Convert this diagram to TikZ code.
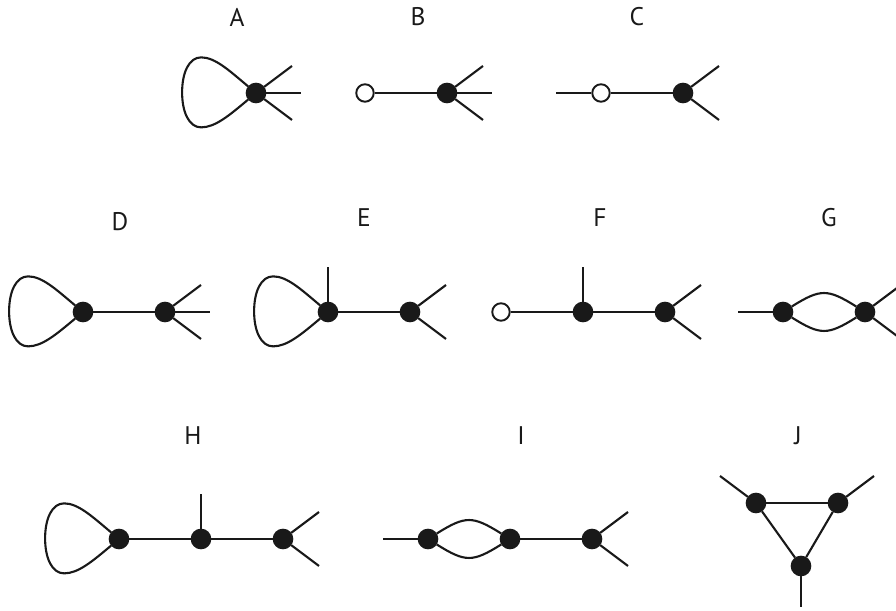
\documentclass[tikz,border=0pt]{standalone}
\usepackage{fontspec}
\setmainfont{PT Sans}
\tikzset{
	vertex/.style={circle,fill=black!90,draw=black!90,inner sep=0pt,minimum size=0.37cm},
	openvertex/.style={circle,fill=white,draw=black!90,line width=1.1pt,inner sep=0pt,minimum size=0.35cm},
	title/.style={font=\fontsize{14.5}{17}\selectfont,text=black!90,inner sep=0pt},
	bubbletop/.style={out=32,in=148,distance=0.68cm},
	bubblebottom/.style={out=-32,in=-148,distance=0.68cm}
}
\begin{document}
\begin{tikzpicture}[x=0.02cm,y=0.02cm,line width=1.2pt,color=black!90]
		\useasboundingbox (0,0) rectangle (896,611);
		\draw (237,594) node [title] (la) {A};
		\draw (418,594) node [title] (lb) {B};
		\draw (637,594) node [title] (lc) {C};
		\draw (120,389) node [title] (ld) {D};
		\draw (364,393) node [title] (le) {E};
		\draw (600,393) node [title] (lf) {F};
		\draw (829,393) node [title] (lg) {G};
		\draw (193,175) node [title] (lh) {H};
		\draw (521,175) node [title] (li) {I};
		\draw (798,175) node [title] (lj) {J};
		\draw (256,518) node [vertex] (a) {};
		\draw (365,518) node [openvertex] (b1) {};
		\draw (447,518) node [vertex] (b2) {};
		\draw (601,518) node [openvertex] (c1) {};
		\draw (683,518) node [vertex] (c2) {};
		\draw (83,299) node [vertex] (d1) {};
		\draw (165,299) node [vertex] (d2) {};
		\draw (328,299) node [vertex] (e1) {};
		\draw (410,299) node [vertex] (e2) {};
		\draw (501,299) node [openvertex] (f1) {};
		\draw (583,299) node [vertex] (f2) {};
		\draw (665,299) node [vertex] (f3) {};
		\draw (783,299) node [vertex] (g1) {};
		\draw (865,299) node [vertex] (g2) {};
		\draw (119,72) node [vertex] (h1) {};
		\draw (201,72) node [vertex] (h2) {};
		\draw (283,72) node [vertex] (h3) {};
		\draw (428,72) node [vertex] (i1) {};
		\draw (510,72) node [vertex] (i2) {};
		\draw (592,72) node [vertex] (i3) {};
		\draw (756,108) node [vertex] (j1) {};
		\draw (838,108) node [vertex] (j2) {};
		\draw (801,45) node [vertex] (j3) {};
		\foreach \name/\x/\y in {au/292/545,ae/301/518,ad/292/491,
			bu/483/545,be/492/518,bd/483/491,
			cw/556/518,cu/719/545,cd/719/491,
			du/201/326,de/210/299,dd/201/272,
			en/328/344,eu/446/326,ed/446/272,
			fn/583/344,fu/701/326,fd/701/272,
			gw/738/299,gu/901/326,gd/901/272,
			hn/201/117,hu/319/99,hd/319/45,
			iw/383/72,iu/628/99,id/628/45,
			ju/720/135,jv/874/135,js/801/4}
			\coordinate (\name) at (\x,\y);
		\foreach \v in {a,d1,e1,h1}
			\draw (\v.140) to [out=140,in=0,out distance=0.5cm,in distance=0.28cm] ++(-47,29)
				to [out=180,in=90,out distance=0.24cm,in distance=0.4cm] ++(-19,-35)
				to [out=270,in=180,out distance=0.4cm,in distance=0.24cm] ++(19,-35)
				to [out=0,in=220,out distance=0.28cm,in distance=0.5cm] (\v.220);
		\path
			(a) edge (au)
				edge (ae)
				edge (ad)
			(b1) edge (b2)
			(b2) edge (bu)
				edge (be)
				edge (bd)
			(cw) edge (c1)
			(c1) edge (c2)
			(c2) edge (cu)
				edge (cd)
			(d1) edge (d2)
			(d2) edge (du)
				edge (de)
				edge (dd)
			(e1) edge (en)
				edge (e2)
			(e2) edge (eu)
				edge (ed)
			(f1) edge (f2)
			(f2) edge (fn)
				edge (f3)
			(f3) edge (fu)
				edge (fd)
			(gw) edge (g1)
			(g1) edge [bubbletop] (g2)
				edge [bubblebottom] (g2)
			(g2) edge (gu)
				edge (gd)
			(h1) edge (h2)
			(h2) edge (hn)
				edge (h3)
			(h3) edge (hu)
				edge (hd)
			(iw) edge (i1)
			(i1) edge [bubbletop] (i2)
				edge [bubblebottom] (i2)
			(i2) edge (i3)
			(i3) edge (iu)
				edge (id)
			(j1) edge (ju)
				edge (j2)
				edge (j3)
			(j2) edge (jv)
				edge (j3)
			(j3) edge (js);
	\end{tikzpicture}
\end{document}
